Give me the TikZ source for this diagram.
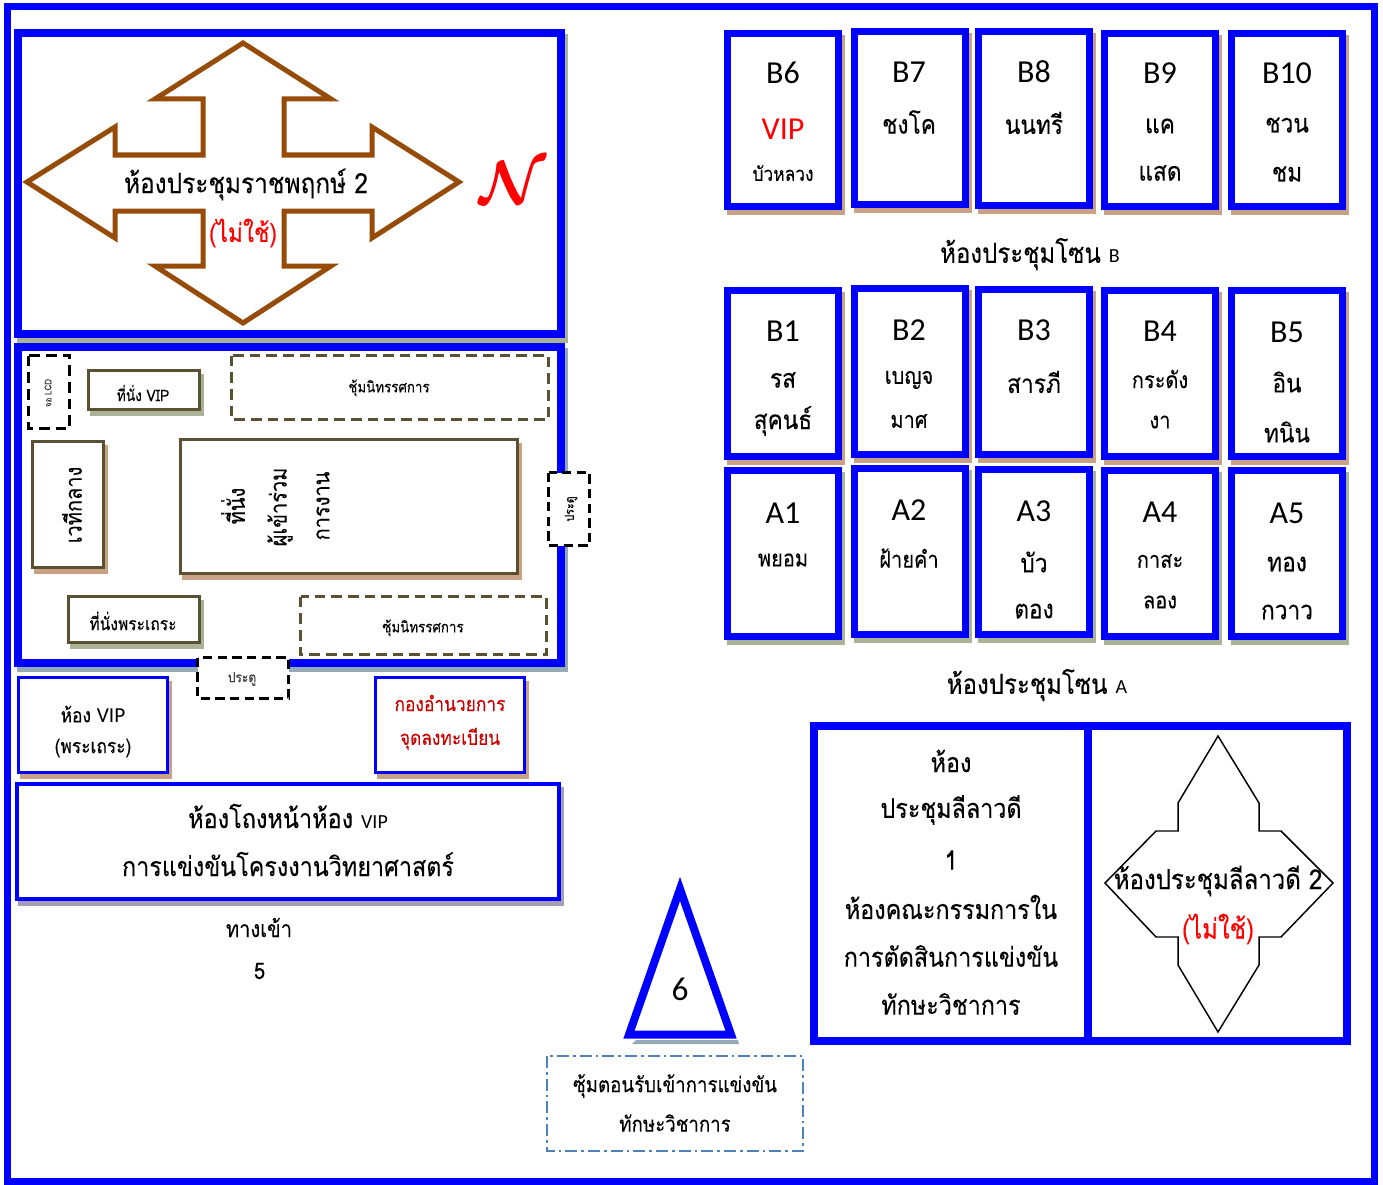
\documentclass[tikz,border=0pt]{standalone}
\usepackage{fontspec}
\newfontfamily\thaif[Script=Thai,FakeStretch=0.87,FakeBold=0.15]{Loma}
\newfontfamily\latf{Carlito}
\font\northf=cmbsy10 at 46pt
\newcommand\fs[1]{\fontsize{#1}{#1}\selectfont}
\newcommand\tfs[1]{\pgfmathsetmacro\tsz{#1*1.15}\fontsize{\tsz}{\tsz}\selectfont}
\definecolor{pblue}{RGB}{0,0,255}
\definecolor{pbrown}{RGB}{150,75,8}
\definecolor{polive}{RGB}{90,80,50}
\definecolor{ptan}{RGB}{201,161,132}
\definecolor{psage}{RGB}{170,179,150}
\definecolor{pslate}{RGB}{148,170,180}
\definecolor{pmauve}{RGB}{165,158,180}
\definecolor{pdash}{RGB}{79,129,189}
\definecolor{pred}{RGB}{200,0,0}
\newcommand\rbox[7]{%
  \fill[#7] (#1+3,#2+5) rectangle (#3+3,#4+5);
  \draw[draw=#6,fill=white,line width=#5*0.75pt] (#1+#5/2,#2+#5/2) rectangle (#3-#5/2,#4-#5/2);}
\newcommand\dbox[6]{%
  \draw[draw=#6,line width=#5*0.75pt,dash pattern=on 8pt off 4.5pt] (#1+#5/2,#2+#5/2) rectangle (#3-#5/2,#4-#5/2);}
\newcommand\dboxw[6]{%
  \draw[draw=#6,fill=white,line width=#5*0.75pt,dash pattern=on 7pt off 4pt] (#1+#5/2,#2+#5/2) rectangle (#3-#5/2,#4-#5/2);}
\tikzset{
  t/.style={font=\thaif\tfs{#1},inner sep=0pt,text=black},
  l/.style={font=\latf\fs{#1},inner sep=0pt,text=black},
}
\begin{document}
\begin{tikzpicture}[x=0.75pt,y=-0.75pt]
\useasboundingbox (0,0) rectangle (1383,1184);
\fill[white] (0,0) rectangle (1383,1184);
% frame
\draw[pblue,line width=5.25pt] (7,6.5) rectangle (1374,1181);
% Ratchaphruek room
\rbox{14}{29}{565}{338}{8}{pblue}{psage}
\draw[pbrown,line width=3.75pt,miter limit=10] (243,43) -- (155,99) -- (203,99) -- (203,155) -- (115,155) -- (115,127) -- (27,182) -- (115,238) -- (115,211) -- (203,211) -- (203,266) -- (155,266) -- (243,323) -- (331,266) -- (284,266) -- (284,211) -- (372,211) -- (372,238) -- (459,182) -- (372,127) -- (372,155) -- (284,155) -- (284,99) -- (331,99) -- cycle;
\node[t=18.3] (r2) at (246,184.5) {ห้องประชุมราชพฤกษ์ 2};
\node[t=17,text=red] (r2n) at (243,233) {(ไม่ใช้)};
\node[inner sep=0pt,text=red] (north) at (508,182) {\northf N};
% hall
\rbox{14}{343}{565}{667}{8}{pblue}{pslate}
\dbox{27}{354}{71}{430}{3}{black}
\node[t=6,rotate=90,text=black!80] (lcd) at (48,393) {จอ LCD};
\rbox{87}{369}{201}{411}{3}{polive}{psage}
\node[t=10.3] (vip) at (143,393) {ที่นั่ง VIP};
\dbox{230}{354}{550}{421}{3}{polive}
\node[t=10] (ex1) at (389,388) {ชุ้มนิทรรศการ};
\rbox{31}{440}{105}{569}{3}{polive}{ptan}
\node[t=15,rotate=90] (stage) at (72,505) {เวทีกลาง};
\rbox{179}{438}{519}{575}{3}{polive}{ptan}
\node[t=15,rotate=90] (s1) at (233,506) {ที่นั่ง};
\node[t=15,rotate=90] (s2) at (280,507) {ผู้เข้าร่วม};
\node[t=15,rotate=90] (s3) at (323,506) {การงาน};
\dboxw{547}{471}{591}{547}{3}{black}
\node[t=8,rotate=90] (d1) at (571,509) {ประตู};
\rbox{67}{595}{201}{644}{3}{polive}{psage}
\node[t=11.7] (monk) at (133,621) {ที่นั่งพระเถระ};
\dbox{299}{595}{548}{656}{3}{polive}
\node[t=10] (ex2) at (423,628) {ซุ้มนิทรรศการ};
\dboxw{196}{656}{290}{700}{3}{black}
\node[t=9,text=black!75] (d2) at (242,679) {ประตู};
% small rooms
\rbox{17}{676}{169}{774}{3}{pblue}{ptan}
\node[t=13] (v1) at (93,714) {ห้อง {\latf\fs{16}VIP}};
\node[t=13] (v2) at (93,748) {(พระเถระ)};
\rbox{374}{676}{526}{774}{3}{pblue}{ptan}
\node[t=13,text=pred] (g1) at (450,703) {กองอำนวยการ};
\node[t=13,text=pred] (g2) at (450,739) {จุดลงทะเบียน};
\rbox{15}{782}{561}{901}{4}{pblue}{pmauve}
\node[t=17.6] (f1) at (288,816) {ห้องโถงหน้าห้อง {\latf\fs{15}VIP}};
\node[t=17.5] (f2) at (288,864) {การแข่งขันโครงงานวิทยาศาสตร์};
\node[t=15] (e1) at (259,927.5) {ทางเข้า};
\node[t=15] (e2) at (259.5,971) {5};
% triangle
\fill[pslate] (636,1040) -- (738,1040) -- (739,1044) -- (632,1044) -- cycle;
\draw[pblue,line width=6pt,miter limit=10,fill=white] (680,889) -- (731,1034.5) -- (629,1034.5) -- cycle;
\node[l=25] (six) at (680,989) {6};
\draw[pdash,line width=2pt,dash pattern=on 9pt off 3pt on 2pt off 3pt] (547,1056) rectangle (803,1151);
\node[t=14] (w1) at (675,1086) {ซุ้มตอนรับเข้าการแข่งขัน};
\node[t=14] (w2) at (675,1123) {ทักษะวิชาการ};
% rooms
\foreach \xa/\xb/\ya/\yb/\sh in {
  724/842/30/210/ptan, 851/969/28/208/ptan, 975/1093/28/209/ptan, 1101/1219/30/210/ptan, 1228/1346/30/210/ptan,
  724/842/287/460/ptan, 851/969/285/458/ptan, 975/1093/286/458/ptan, 1101/1219/287/460/ptan, 1228/1346/287/460/ptan,
  724/842/467/640/psage, 851/969/465/638/psage, 975/1093/466/638/psage, 1101/1219/467/640/psage, 1228/1346/467/640/psage}{
  \rbox{\xa}{\ya}{\xb}{\yb}{7}{pblue}{\sh}
}
\tikzset{rn/.style={l=24}, rt/.style={t=17}}
\node[rn] (b6) at (783,73) {B6};
\node[l=24,text=red] (b6v) at (783,129) {VIP};
\node[t=13] (b6t) at (783,173) {บัวหลวง};
\node[rn] (b7) at (909,72) {B7};
\node[rt] (b7t) at (909,122) {ชงโค};
\node[rn] (b8) at (1034,72) {B8};
\node[rt] (b8t) at (1034,123) {นนทรี};
\node[rn] (b9) at (1160,73) {B9};
\node[rt] (b9t) at (1160,126) {แค};
\node[rt] (b9u) at (1160,173) {แสด};
\node[rn] (b10) at (1287,73) {B10};
\node[rt] (b10t) at (1287,125) {ชวน};
\node[rt] (b10u) at (1287,174) {ชม};
\node[t=18] (zb) at (1030,254) {ห้องประชุมโซน {\latf\fs{15}B}};
\node[rn] (b1) at (783,331) {B1};
\node[rt] (b1t) at (783,380) {รส};
\node[rt] (b1u) at (783,421) {สุคนธ์};
\node[rn] (b2) at (909,330) {B2};
\node[t=15] (b2t) at (909,380) {เบญจ};
\node[t=15] (b2u) at (909,421) {มาศ};
\node[rn] (b3) at (1034,330) {B3};
\node[rt] (b3t) at (1034,382) {สารภี};
\node[rn] (b4) at (1160,331) {B4};
\node[t=15] (b4t) at (1160,379) {กระดัง};
\node[t=15] (b4u) at (1160,422) {งา};
\node[rn] (b5) at (1287,332) {B5};
\node[rt] (b5t) at (1287,382) {อิน};
\node[rt] (b5u) at (1287,432) {ทนิน};
\node[rn] (a1) at (783,513) {A1};
\node[t=15] (a1t) at (783,560) {พยอม};
\node[rn] (a2) at (909,510) {A2};
\node[t=15] (a2t) at (909,558) {ฝ้ายคำ};
\node[rn] (a3) at (1034,511) {A3};
\node[rt] (a3t) at (1034,562) {บัว};
\node[rt] (a3u) at (1034,611) {ตอง};
\node[rn] (a4) at (1160,512) {A4};
\node[t=15] (a4t) at (1160,561) {กาสะ};
\node[t=15] (a4u) at (1160,602) {ลอง};
\node[rn] (a5) at (1287,513) {A5};
\node[rt] (a5t) at (1287,564) {ทอง};
\node[rt] (a5u) at (1287,612) {กวาว};
\node[t=18] (za) at (1037,685) {ห้องประชุมโซน {\latf\fs{15}A}};
% Leelawadee
\draw[pblue,line width=6pt] (814,726) rectangle (1088,1041);
\draw[pblue,line width=6pt] (1088,726) rectangle (1347,1041);
\node[t=17.5] (c1) at (951,761) {ห้อง};
\node[t=17.5] (c2) at (951,810) {ประชุมลีลาวดี};
\node[t=17.5] (c3) at (951,860) {1};
\node[t=17.5] (c4) at (951,907) {ห้องคณะกรรมการใน};
\node[t=17.5] (c5) at (951,956) {การตัดสินการแข่งขัน};
\node[t=17.5] (c6) at (951,1004) {ทักษะวิชาการ};
\draw[black,line width=1.1pt] (1218,736) -- (1259,803) -- (1259,831) -- (1281,831) -- (1333,883) -- (1281,937) -- (1259,937) -- (1259,965) -- (1218,1032) -- (1178,965) -- (1178,937) -- (1156,937) -- (1105,883) -- (1156,831) -- (1178,831) -- (1178,803) -- cycle;
\node[t=18] (d21) at (1218,881) {ห้องประชุมลีลาวดี 2};
\node[t=18,text=red] (d22) at (1218,929) {(ไม่ใช้)};
\end{tikzpicture}
\end{document}
